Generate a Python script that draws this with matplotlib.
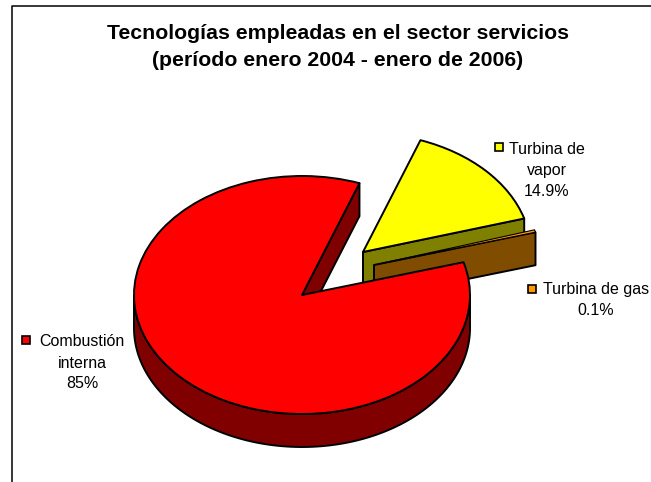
import numpy as np
import matplotlib
matplotlib.use("Agg")
import matplotlib.pyplot as plt
from matplotlib.lines import Line2D
from matplotlib.patches import Wedge, Polygon, Rectangle

categories = ["Turbina de\nvapor", "Turbina de gas", "Combustión\ninterna"]
shares = [14.9, 0.1, 85.0]
share_labels = ["14.9%", "0.1%", "85%"]
colors = ["#FFFF00", "#FF9900", "#FF0000"]
side_colors = ["#808000", "#804C00", "#800000"]
title = "Tecnologías empleadas en el sector servicios\n(período enero 2004 - enero de 2006)"

W, H = 651, 482
CX, CY, RX, RY = 302.0, 295.0, 168.0, 119.0
DEPTH = 33.0 / RY
START = 70.0
MIN_DRAWN_SWEEP = 1.2  # degrees, keeps a hairline slice visible under its outline
OFFSETS = [(61 / RX, 43 / RY), (72 / RX, 30 / RY), (0.0, 0.0)]
LABEL_POS = [(547, 170), (596, 300), (82, 363)]
KEY_POS = [(499, 147), (532, 289), (26, 340)]
LW = 1.4
EDGE_LW = [LW, 0.8, LW]

plt.rcParams["font.family"] = ["Liberation Sans", "DejaVu Sans"]
fig = plt.figure(figsize=(W / 100, H / 100), dpi=100, facecolor="white")
ax = fig.add_axes([0, 0, 1, 1])
ax.set_xlim(-CX / RX, (W - CX) / RX)
ax.set_ylim(-(H - CY) / RY, CY / RY)
ax.axis("off")


def arc(t1, t2, n=120):
    t = np.radians(np.linspace(t1, t2, n))
    return np.column_stack([np.cos(t), np.sin(t)])


def fx(x):
    return x / W


def fy(y):
    return 1 - y / H


# chart frame (open to the right and the bottom)
fig.add_artist(Line2D([fx(11.5), fx(11.5), fx(W)], [fy(H), fy(5.5), fy(5.5)],
                      color="black", linewidth=1.1, transform=fig.transFigure))

# clockwise slices, from START
sweeps = np.array(shares) / sum(shares) * 360.0
ends = START - np.cumsum(sweeps)
starts = ends + sweeps

for i in range(3):
    ox, oy = OFFSETS[i]
    a1 = ends[i]
    a2 = max(starts[i], a1 + MIN_DRAWN_SWEEP)
    edge = dict(edgecolor="black", linewidth=LW, joinstyle="round")
    # radial wall seen from the front
    rim = np.array([np.cos(np.radians(a1)), np.sin(np.radians(a1))])
    ax.add_patch(Polygon([(ox, oy), (ox + rim[0], oy + rim[1]),
                          (ox + rim[0], oy + rim[1] - DEPTH), (ox, oy - DEPTH)],
                         facecolor=side_colors[i], zorder=2 + i, **edge))
    if i == 2:
        top = arc(-180, 0)
        low = top[::-1] - [0, DEPTH]
        ax.add_patch(Polygon(np.vstack([top, low]), facecolor=side_colors[i],
                             zorder=2 + i, **edge))
    edge["linewidth"] = EDGE_LW[i]
    ax.add_patch(Wedge((ox, oy), 1.0, a1, a2, facecolor=colors[i], zorder=2 + i + 0.5, **edge))

fig.text(fx(338), fy(47), title, ha="center", va="center", fontsize=15.3,
         fontweight="bold", color="black", linespacing=1.58)

for cat, pct, (x, y), (kx, ky), c in zip(categories, share_labels, LABEL_POS, KEY_POS, colors):
    lines = cat.split("\n")
    fig.text(fx(x), fy(y), "\n".join(lines + [pct]), ha="center", va="center",
             fontsize=11.5, color="black", linespacing=1.5)
    fig.add_artist(Rectangle((fx(kx - 4), fy(ky + 4)), 8 / W, 8 / H, transform=fig.transFigure,
                             facecolor=c, edgecolor="black", linewidth=1.2))

fig.savefig("out.png", dpi=100)
